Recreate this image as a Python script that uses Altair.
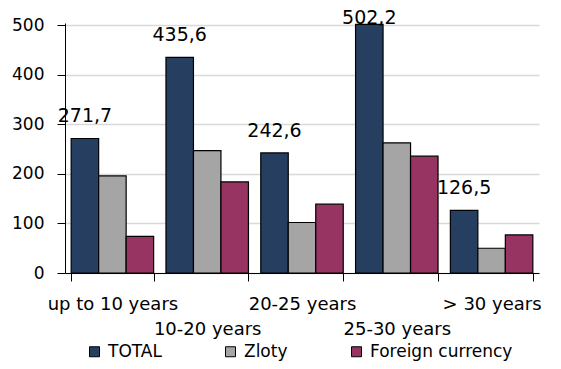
import altair as alt
import pandas as pd

categories = ["up to 10 years", "10-20 years", "20-25 years", "25-30 years", "> 30 years"]
series_names = ["TOTAL", "Zloty", "Foreign currency"]
total = [271.7, 435.6, 242.6, 502.2, 126.5]
zloty = [196, 247, 102, 263, 50]
foreign = [74, 184, 139, 236, 77]
colors = ["#263F61", "#A5A5A5", "#973462"]

rows = []
for i, c in enumerate(categories):
    for s, vals in zip(series_names, [total, zloty, foreign]):
        v = vals[i]
        rows.append({"category": c, "series": s, "value": v,
                     "label": f"{v:.1f}".replace(".", ",")})
df = pd.DataFrame(rows)

font = "DejaVu Sans"
second_row = [c for i, c in enumerate(categories) if i % 2 == 1]
stagger = "indexof(" + str(second_row) + ", datum.value) >= 0 ? ['', datum.label] : datum.label"

x = alt.X("category:N", sort=categories, title=None,
          scale=alt.Scale(paddingInner=0.13, paddingOuter=0.065),
          axis=alt.Axis(labelAngle=0, labelFont=font, labelFontSize=18, labelColor="black",
                        labelExpr=stagger, labelLineHeight=25, labelBaseline="top",
                        labelPadding=14, tickSize=8, tickColor="black", domainColor="black",
                        tickBand="extent", labelLimit=300))
xoff = alt.XOffset("series:N", sort=series_names, scale=alt.Scale(domain=series_names))
y_scale = alt.Scale(domain=[0, 505], nice=False)
y_axis = alt.Axis(values=[0, 100, 200, 300, 400, 500], labelFont=font, labelFontSize=17,
                  labelColor="black", tickSize=8, tickColor="black", domainColor="black",
                  labelPadding=13, grid=True, gridColor="#D9D9D9", gridWidth=1.5)
y = alt.Y("value:Q", title=None, scale=y_scale, axis=y_axis)

bars = alt.Chart(df).mark_bar(stroke="black", strokeWidth=1.2).encode(
    x=x, xOffset=xoff, y=y,
    color=alt.Color("series:N", sort=series_names,
                    scale=alt.Scale(domain=series_names, range=colors),
                    legend=alt.Legend(title=None, orient="none", direction="horizontal",
                                      legendX=21, legendY=320, padding=0,
                                      symbolType="square", symbolSize=100,
                                      symbolStrokeColor="black", symbolStrokeWidth=1,
                                      labelFont=font, labelFontSize=17, labelColor="black",
                                      columnPadding=60, labelOffset=5)),
)

labels = alt.Chart(df).transform_filter(alt.datum.series == "TOTAL").transform_calculate(
    label_y="min(datum.value, 470)"
).mark_text(
    baseline="bottom", dy=-12, font=font, fontSize=19, color="black"
).encode(x=x, xOffset=xoff,
         y=alt.Y("label_y:Q", title=None, scale=y_scale, axis=y_axis), text="label:N")

chart = alt.layer(bars, labels).properties(
    width=474, height=250,
    autosize=alt.AutoSizeParams(type="none"),
    padding={"left": 57, "top": 15, "right": 14, "bottom": 88},
).configure_view(stroke=None)

chart.save("out.html", embed_options={"renderer": "svg", "actions": False})
